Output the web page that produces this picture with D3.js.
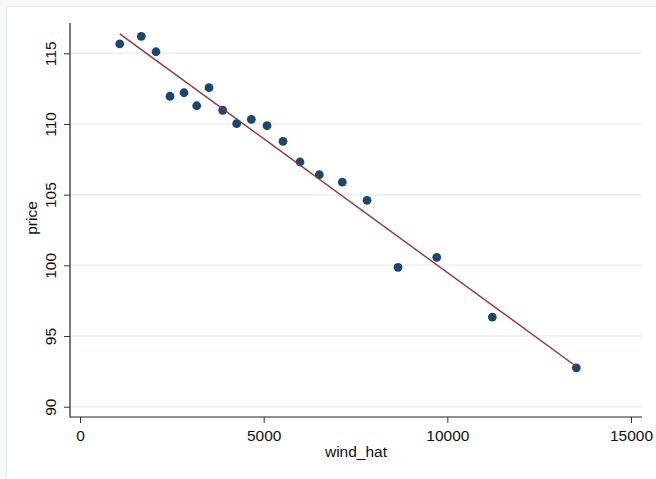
<!DOCTYPE html>
<html>
<head>
<meta charset="utf-8">
<script src="https://cdn.jsdelivr.net/npm/d3@7"></script>
<style>
  body { margin: 0; background: #f6f8f9; }
  svg { display: block; }
</style>
</head>
<body>
<div id="chart"></div>
<script>
// data
const windHat = [1081, 1669, 2069, 2450, 2831, 3177, 3512, 3885, 4266, 4664,
  5091, 5527, 5990, 6515, 7141, 7814, 8658, 9712, 11225, 13512];
const price = [115.66, 116.20, 115.11, 111.96, 112.21, 111.29, 112.57, 110.97, 110.02, 110.33,
  109.88, 108.77, 107.31, 106.41, 105.89, 104.60, 99.86, 100.57, 96.34, 92.75];
const xTicks = [0, 5000, 10000, 15000];
const yTicks = [90, 95, 100, 105, 110, 115];

const width = 656, height = 479;
const font = "'Liberation Sans', Arial, Helvetica, sans-serif";

const svg = d3.select("#chart").append("svg")
  .attr("width", width)
  .attr("height", height);

// grey outer frame, white graph region
svg.append("rect").attr("width", width).attr("height", height).attr("fill", "#f6f8f9");
svg.append("rect")
  .attr("x", 6.5).attr("y", 6.5)
  .attr("width", width).attr("height", height)
  .attr("fill", "#fff")
  .attr("stroke", "#e6edf0");

// plot region
const plot = { left: 70, right: 642, top: 23, bottom: 417 };

const x = d3.scaleLinear().domain([0, 15000]).range([80, 631]);
const y = d3.scaleLinear().domain([90, 115]).range([406.7, 53.3]);

// gridlines
svg.append("g")
  .selectAll("line")
  .data(yTicks)
  .join("line")
  .attr("x1", plot.left).attr("x2", plot.right)
  .attr("y1", d => y(d)).attr("y2", d => y(d))
  .attr("stroke", "#eaf0f2")
  .attr("stroke-width", 1.5);

// y axis
const yAxis = svg.append("g")
  .attr("transform", `translate(${plot.left},0)`)
  .call(d3.axisLeft(y).tickValues(yTicks).tickSize(6).tickSizeOuter(0).tickPadding(8));
yAxis.select(".domain").remove();
yAxis.selectAll(".tick line").attr("stroke", "#333");
yAxis.selectAll(".tick text")
  .attr("transform", "rotate(-90)")
  .attr("x", 0)
  .attr("y", -14.5)
  .attr("dy", 0)
  .attr("text-anchor", "middle")
  .style("font-family", font)
  .style("font-size", "15.5px")
  .attr("fill", "#111");

// x axis
const xAxis = svg.append("g")
  .attr("transform", `translate(0,${plot.bottom})`)
  .call(d3.axisBottom(x).tickValues(xTicks).tickFormat(d3.format("d")).tickSize(6).tickSizeOuter(0).tickPadding(7));
xAxis.select(".domain").remove();
xAxis.selectAll(".tick line").attr("stroke", "#333");
xAxis.selectAll(".tick text")
  .style("font-family", font)
  .style("font-size", "15.5px")
  .attr("fill", "#111");

// axis lines
svg.append("line")
  .attr("x1", plot.left).attr("x2", plot.left)
  .attr("y1", plot.top).attr("y2", plot.bottom + 0.5)
  .attr("stroke", "#222").attr("stroke-width", 1.2);
svg.append("line")
  .attr("x1", plot.left).attr("x2", plot.right)
  .attr("y1", plot.bottom).attr("y2", plot.bottom)
  .attr("stroke", "#222").attr("stroke-width", 1.2);

// axis titles
svg.append("text")
  .attr("x", (plot.left + plot.right) / 2)
  .attr("y", 457)
  .attr("text-anchor", "middle")
  .style("font-family", font)
  .style("font-size", "15.5px")
  .attr("fill", "#111")
  .text("wind_hat");

svg.append("text")
  .attr("transform", `translate(37,${(plot.top + plot.bottom) / 2 - 2}) rotate(-90)`)
  .attr("text-anchor", "middle")
  .style("font-family", font)
  .style("font-size", "15.5px")
  .attr("fill", "#111")
  .text("price");

// points
const data = windHat.map((w, i) => ({ w, p: price[i] }));
svg.append("g")
  .selectAll("circle")
  .data(data)
  .join("circle")
  .attr("cx", d => x(d.w))
  .attr("cy", d => y(d.p))
  .attr("r", 4.4)
  .attr("fill", "#1a476f");

// linear fit (least squares)
const mx = d3.mean(windHat), my = d3.mean(price);
const slope = d3.sum(data, d => (d.w - mx) * (d.p - my)) / d3.sum(data, d => (d.w - mx) ** 2);
const icpt = my - slope * mx;
const ext = d3.extent(windHat);
svg.append("line")
  .attr("x1", x(ext[0])).attr("y1", y(icpt + slope * ext[0]))
  .attr("x2", x(ext[1])).attr("y2", y(icpt + slope * ext[1]))
  .attr("stroke", "#90353b")
  .attr("stroke-width", 1.4);
</script>
</body>
</html>
